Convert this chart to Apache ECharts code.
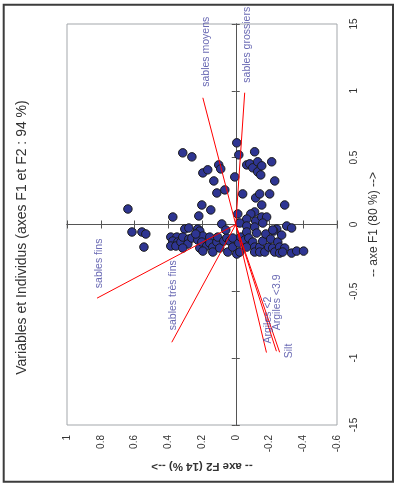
<!DOCTYPE html>
<html><head><meta charset="utf-8">
<script src="https://cdn.jsdelivr.net/npm/echarts@6/dist/echarts.min.js"></script>
<style>html,body{margin:0;padding:0;background:#fff}#c{width:395px;height:485px}</style>
</head><body><div id="c"></div>
<script>
const titleText = 'Variables et Individus (axes F1 et F2 : 94 %)';
const f1Name = '-- axe F1 (80 %) -->';
const f2Name = '-- axe F2 (14 %) -->';
const f1TickValues = [-1.5, -1, -0.5, 0, 0.5, 1, 1.5];
const f1TickLabels = ['-15', '-1', '-0.5', '0', '0.5', '1', '15'];
const f2TickValues = [-0.6, -0.4, -0.2, 0, 0.2, 0.4, 0.6, 0.8, 1];
const f2TickLabels = ['-0.6', '-0.4', '-0.2', '0', '0.2', '0.4', '0.6', '0.8', '1'];

const varNames = ['sables moyens', 'sables grossiers', 'sables fins', 'sables très fins', 'Argiles <2', 'Argiles <3.9', 'Silt'];
const varF1 = [0.948, 0.986, -0.551, -0.881, -0.958, -0.948, -0.956];
const varF2 = [0.195, -0.053, 0.822, 0.379, -0.182, -0.241, -0.260];

const obsF1 = [0.536,0.506,0.386,0.409,0.326,0.236,0.446,0.416,0.259,0.356,
0.611,0.521,0.229,0.446,0.454,0.544,0.424,0.469,0.394,0.371,
0.439,0.469,0.326,0.199,0.229,0.229,0.146,0.146,0.116,0.056,
0.064,0.146,0.109,0.094,0.079,0.041,0.026,0.056,0.056,0.011,
-0.034,-0.026,-0.034,0.004,0.011,-0.011,-0.019,-0.034,-0.011,-0.026,
-0.049,-0.049,-0.056,-0.056,-0.071,-0.169,-0.094,-0.094,-0.124,-0.131,
-0.161,-0.161,-0.131,-0.094,-0.109,-0.146,-0.176,-0.101,-0.116,-0.086,
-0.176,-0.131,-0.161,-0.094,-0.139,-0.169,-0.199,-0.206,-0.131,-0.094,
-0.176,-0.124,-0.101,-0.124,-0.206,-0.101,-0.169,-0.221,-0.139,-0.094,
-0.206,-0.116,-0.056,-0.101,-0.169,-0.131,-0.169,-0.206,-0.064,-0.169,
-0.206,-0.124,-0.206,-0.071,-0.169,-0.109,-0.041,-0.176,-0.206,-0.131,
-0.169,-0.214,-0.079,-0.176,-0.206,-0.214,-0.199,-0.199,-0.071,-0.041,
0.079];
const obsF2 = [0.314,0.260,0.195,0.166,0.130,0.112,0.101,0.089,0.065,0.006,
-0.006,-0.018,-0.041,-0.065,-0.083,-0.112,-0.101,-0.130,-0.130,-0.148,
-0.154,-0.213,-0.231,-0.118,-0.142,-0.201,-0.290,-0.154,0.639,0.373,
0.219,0.201,0.148,-0.112,-0.089,-0.065,-0.118,-0.154,-0.183,-0.160,
0.302,0.278,0.225,0.083,-0.024,-0.065,-0.112,-0.243,-0.302,-0.331,
-0.225,0.213,0.615,0.556,0.533,0.544,0.385,0.349,0.373,0.343,
0.385,0.355,0.325,0.314,0.278,0.284,0.314,0.260,0.225,0.195,
0.213,0.201,0.172,0.154,0.154,0.136,0.195,0.136,0.112,0.107,
0.095,0.071,0.053,0.036,0.047,0.018,0.018,-0.006,-0.018,-0.030,
-0.024,-0.053,-0.065,-0.077,-0.065,-0.101,-0.112,-0.112,-0.124,-0.142,
-0.142,-0.160,-0.172,-0.178,-0.195,-0.207,-0.219,-0.219,-0.231,-0.249,
-0.260,-0.260,-0.272,-0.290,-0.278,-0.331,-0.361,-0.402,0.237,0.059,
-0.012];

// label placement (style): [shift across, gap along]
const labelPlace = {
  'sables moyens': [3, 11], 'sables grossiers': [2, 10], 'sables fins': [2, 10],
  'sables très fins': [1, 12], 'Argiles <2': [2, 9], 'Argiles <3.9': [1, 21], 'Silt': [9, -6]
};

const FONT = '"Liberation Sans", Arial, sans-serif';
const chart = echarts.init(document.getElementById('c'));
const xBase = {type: 'value', inverse: true, min: -0.6, max: 1, interval: 0.2, splitLine: {show: false}};
const yBase = {type: 'value', min: -1.5, max: 1.5, interval: 0.5, splitLine: {show: false}};
const zeroLine = {color: '#555', width: 1};
function lookup(vals, labs) {
  return function (v) {
    for (let i = 0; i < vals.length; i++) if (Math.abs(vals[i] - v) < 1e-6) return labs[i];
    return '';
  };
}
const option = {
  animation: false,
  backgroundColor: '#fff',
  grid: {left: 67, right: 58, top: 24, bottom: 60, show: true, borderColor: '#a3a7ab', borderWidth: 1,
    backgroundColor: '#fff', containLabel: false, outerBoundsMode: 'none'},
  xAxis: [
    Object.assign({}, xBase, {position: 'bottom', axisLine: {show: false, onZero: false}, axisTick: {show: false},
      axisLabel: {rotate: 90, margin: 10, fontSize: 10, color: '#333', fontFamily: FONT, formatter: lookup(f2TickValues, f2TickLabels)},
      name: f2Name, nameLocation: 'middle', nameRotate: 180, nameGap: 34,
      nameTextStyle: {fontSize: 11.5, fontWeight: 'bold', color: '#333', fontFamily: FONT}}),
    Object.assign({}, xBase, {position: 'bottom', axisLine: {show: true, onZero: true, onZeroAxisIndex: 0, lineStyle: zeroLine},
      axisTick: {show: true, inside: true, length: 4, lineStyle: zeroLine}, axisLabel: {show: false}}),
    Object.assign({}, xBase, {position: 'bottom', axisLine: {show: true, onZero: true, onZeroAxisIndex: 0, lineStyle: zeroLine},
      axisTick: {show: true, inside: false, length: 4, lineStyle: zeroLine}, axisLabel: {show: false}})
  ],
  yAxis: [
    Object.assign({}, yBase, {position: 'right', axisLine: {show: false, onZero: false}, axisTick: {show: false},
      axisLabel: {rotate: 90, margin: 12, fontSize: 10, color: '#333', fontFamily: FONT, formatter: lookup(f1TickValues, f1TickLabels)},
      name: f1Name, nameLocation: 'middle', nameRotate: 90, nameGap: 31,
      nameTextStyle: {fontSize: 12, color: '#333', fontFamily: FONT}}),
    Object.assign({}, yBase, {position: 'left', axisLine: {show: true, onZero: true, onZeroAxisIndex: 0, lineStyle: zeroLine},
      axisTick: {show: true, inside: true, length: 4, lineStyle: zeroLine}, axisLabel: {show: false}}),
    Object.assign({}, yBase, {position: 'left', axisLine: {show: true, onZero: true, onZeroAxisIndex: 0, lineStyle: zeroLine},
      axisTick: {show: true, inside: false, length: 4, lineStyle: zeroLine}, axisLabel: {show: false}})
  ],
  graphic: [
    {type: 'rect', shape: {x: 3.7, y: 4.7, width: 389.3, height: 477}, style: {fill: null, stroke: '#3c3c3c', lineWidth: 2}, silent: true, z: 100},
    {type: 'text', x: 22, y: 237.5, rotation: Math.PI / 2, silent: true,
      style: {text: titleText, fill: '#333', fontSize: 14, fontFamily: FONT, align: 'center', verticalAlign: 'middle'}}
  ],
  series: [
    {type: 'scatter', xAxisIndex: 0, yAxisIndex: 0, symbol: 'circle', symbolSize: 8.5, z: 2, silent: true,
      itemStyle: {color: '#2e3592', borderColor: '#1a1a1a', borderWidth: 1, opacity: 1},
      data: obsF2.map((x, i) => [x, obsF1[i]])},
    {type: 'lines', coordinateSystem: 'cartesian2d', xAxisIndex: 0, yAxisIndex: 0, polyline: false, z: 3, silent: true,
      lineStyle: {color: '#ff0000', width: 1, opacity: 1},
      data: varNames.map((n, i) => ({coords: [[0, 0], [varF2[i], varF1[i]]]}))},
    {type: 'scatter', xAxisIndex: 0, yAxisIndex: 0, symbol: 'circle', symbolSize: 0, z: 4, silent: true,
      itemStyle: {color: 'rgba(0,0,0,0)'},
      label: {show: true, formatter: '{b}', rotate: 90, align: 'left', verticalAlign: 'middle',
        fontSize: 10.5, color: '#4444a0', fontFamily: FONT},
      data: varNames.map((n, i) => ({name: n, value: [varF2[i], varF1[i]],
        label: {position: [labelPlace[n][0], -labelPlace[n][1]]}}))}
  ]
};
chart.setOption(option);
</script></body></html>
